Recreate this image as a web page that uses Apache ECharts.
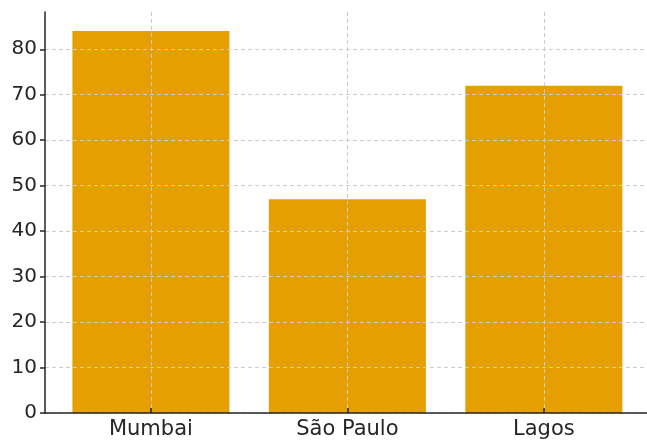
<!DOCTYPE html>
<html>
<head>
<meta charset="utf-8">
<script src="https://cdn.jsdelivr.net/npm/echarts@6/dist/echarts.min.js"></script>
<style>
  html, body { margin: 0; padding: 0; background: #fff; }
  #container { width: 647px; height: 446px; }
</style>
</head>
<body>
<div id="container"></div>
<script>
var cities = ['Mumbai', 'São Paulo', 'Lagos'];
var values = [84, 47, 72];
var yTicks = [0, 10, 20, 30, 40, 50, 60, 70, 80];
var xTicks = [0, 1, 2];

var grid_line = { show: true, lineStyle: { color: '#cccccc', type: [4, 3], width: 1 } };

var option = {
    animation: false,
    grid: { left: 45, top: 12, bottom: 33, right: 0 },
    xAxis: {
        type: 'value',
        min: -0.539,
        max: 2.525,
        z: 3,
        axisLine: { show: true, onZero: false, lineStyle: { color: '#262626', width: 1.5 } },
        axisTick: { show: true, inside: true, length: 5, customValues: xTicks, lineStyle: { color: '#262626', width: 1.5 } },
        axisLabel: {
            customValues: xTicks, margin: 6,
            fontFamily: 'DejaVu Sans', fontSize: 21, color: '#262626',
            formatter: function (v) { return cities[v]; }
        },
        splitLine: grid_line
    },
    yAxis: {
        type: 'value',
        min: 0,
        max: 88.2,
        z: 3,
        axisLine: { show: true, onZero: false, lineStyle: { color: '#262626', width: 1.5 } },
        axisTick: { show: true, length: 5, customValues: yTicks, lineStyle: { color: '#262626', width: 1.5 } },
        axisLabel: { customValues: yTicks, margin: 8, fontFamily: 'DejaVu Sans', fontSize: 20, color: '#262626' },
        splitLine: grid_line
    },
    series: [{
        type: 'bar',
        barWidth: 157,
        itemStyle: { color: '#E69F00' },
        data: values.map(function (v, i) { return [i, v]; })
    }]
};

var myChart = echarts.init(document.getElementById('container'));
myChart.setOption(option);
</script>
</body>
</html>
